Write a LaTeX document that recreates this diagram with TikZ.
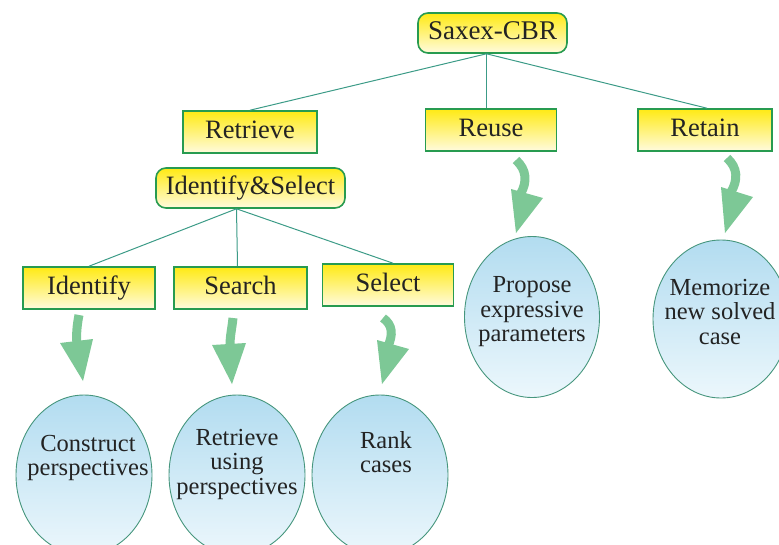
\documentclass[tikz,border=0pt]{standalone}
\usepackage{fontspec}
\setmainfont{Liberation Serif}
\usetikzlibrary{shapes.geometric,calc}
\definecolor{boxgreen}{RGB}{40,155,80}
\definecolor{yelA}{RGB}{255,234,20}
\definecolor{yelB}{RGB}{255,251,222}
\definecolor{bluA}{RGB}{178,220,240}
\definecolor{bluB}{RGB}{236,247,252}
\definecolor{ellteal}{RGB}{70,150,125}
\definecolor{connteal}{RGB}{60,155,135}
\definecolor{arrgreen}{RGB}{125,200,150}
\definecolor{txt}{RGB}{35,35,35}
\newcommand{\boxfnt}{\fontsize{26.5}{26.5}\selectfont}
\newcommand{\saxfnt}{\fontsize{27}{27}\selectfont}
\newcommand{\ellfnt}{\fontsize{24.5}{24.5}\selectfont}
\tikzset{
  box/.style={draw=boxgreen, line width=1.6pt, top color=yelA, bottom color=yelB,
    minimum height=42pt, inner sep=0pt, font=\boxfnt, text=txt, text height=18pt, text depth=5pt},
  rbox/.style={box, rounded corners=10pt},
  ell/.style={ellipse, draw=ellteal, line width=0.9pt, top color=bluA, bottom color=bluB,
    minimum width=136pt, minimum height=160pt, inner sep=0pt},
  etext/.style={align=center, font=\ellfnt, text=txt, inner sep=0pt},
  conn/.style={draw=connteal, line width=1pt},
  shaft/.style={draw=arrgreen, line width=9pt},
  head/.style={fill=arrgreen}
}
\begin{document}
\begin{tikzpicture}[x=1pt,y=-1pt]
\useasboundingbox (0,0) rectangle (779,544);
% boxes
\node[rbox, minimum width=149pt, minimum height=40pt, font=\saxfnt] (sax) at (492.5,33) {Saxex-CBR};
\node[box, minimum width=134pt] (ret) at (250,132) {Retrieve};
\node[box, minimum width=131pt] (reuse) at (491,130) {Reuse};
\node[box, minimum width=134pt] (retain) at (705,130) {Retain};
\node[rbox, minimum width=189pt, minimum height=40pt] (idsel) at (250.5,188) {Identify\&Select};
\node[box, minimum width=132pt] (ident) at (89,288) {Identify};
\node[box, minimum width=133pt] (search) at (240.5,288) {Search};
\node[box, minimum width=131pt] (select) at (388,285) {Select};
% connectors
\coordinate (hubA) at ($(sax.south)+(-6,0)$);
\coordinate (hubB) at ($(idsel.south)+(-14,0)$);
\draw[conn] (hubA) -- (ret.north);
\draw[conn] (hubA) -- (reuse.north -| hubA);
\draw[conn] (hubA) -- ($(retain.north)+(2,0)$);
\draw[conn] (hubB) -- (ident.north);
\draw[conn] (hubB) -- ($(search.north)+(-3,0)$);
\draw[conn] (hubB) -- ($(select.north)+(5,0)$);
% ellipses
\node[ell] (e1) at (84,475) {};
\node[ell] (e2) at (237,475) {};
\node[ell] (e3) at (380,475) {};
\node[ell, minimum width=135pt, minimum height=161pt] (e4) at (532,317) {};
\node[ell, minimum width=136pt, minimum height=158pt] (e5) at (721,319) {};
\node[etext] (t1) at ($(e1)+(4,-17)$) {Construct\\perspectives};
\node[etext] (t2) at ($(e2)+(0,-11)$) {Retrieve\\using\\perspectives};
\node[etext] (t3) at ($(e3)+(6,-23)$) {Rank\\cases};
\node[etext] (t4) at ($(e4)+(0,-5)$) {Propose\\expressive\\parameters};
\node[etext] (t5) at ($(e5)+(-1,-7)$) {Memorize\\new solved\\case};
% curved arrows
\draw[shaft] (79,315) .. controls (77,325) and (76,335) .. (77,344);
\fill[head] (60,343) -- (93,339) -- (83,381) -- cycle;
\draw[shaft] (233,318) .. controls (232,328) and (230,336) .. (230,345);
\fill[head] (212,345) -- (246,343) -- (232,384) -- cycle;
\draw[shaft] (383,318) .. controls (393,325) and (393,335) .. (388,346);
\fill[head] (377,340) -- (409,349) -- (382,384) -- cycle;
\draw[shaft] (516,160) .. controls (527,170) and (527,182) .. (521,193);
\fill[head] (511,189) -- (543,198) -- (516,233) -- cycle;
\draw[shaft] (727,158) .. controls (738,168) and (738,180) .. (731,192);
\fill[head] (721,187) -- (753,197) -- (725,233) -- cycle;
\end{tikzpicture}
\end{document}
